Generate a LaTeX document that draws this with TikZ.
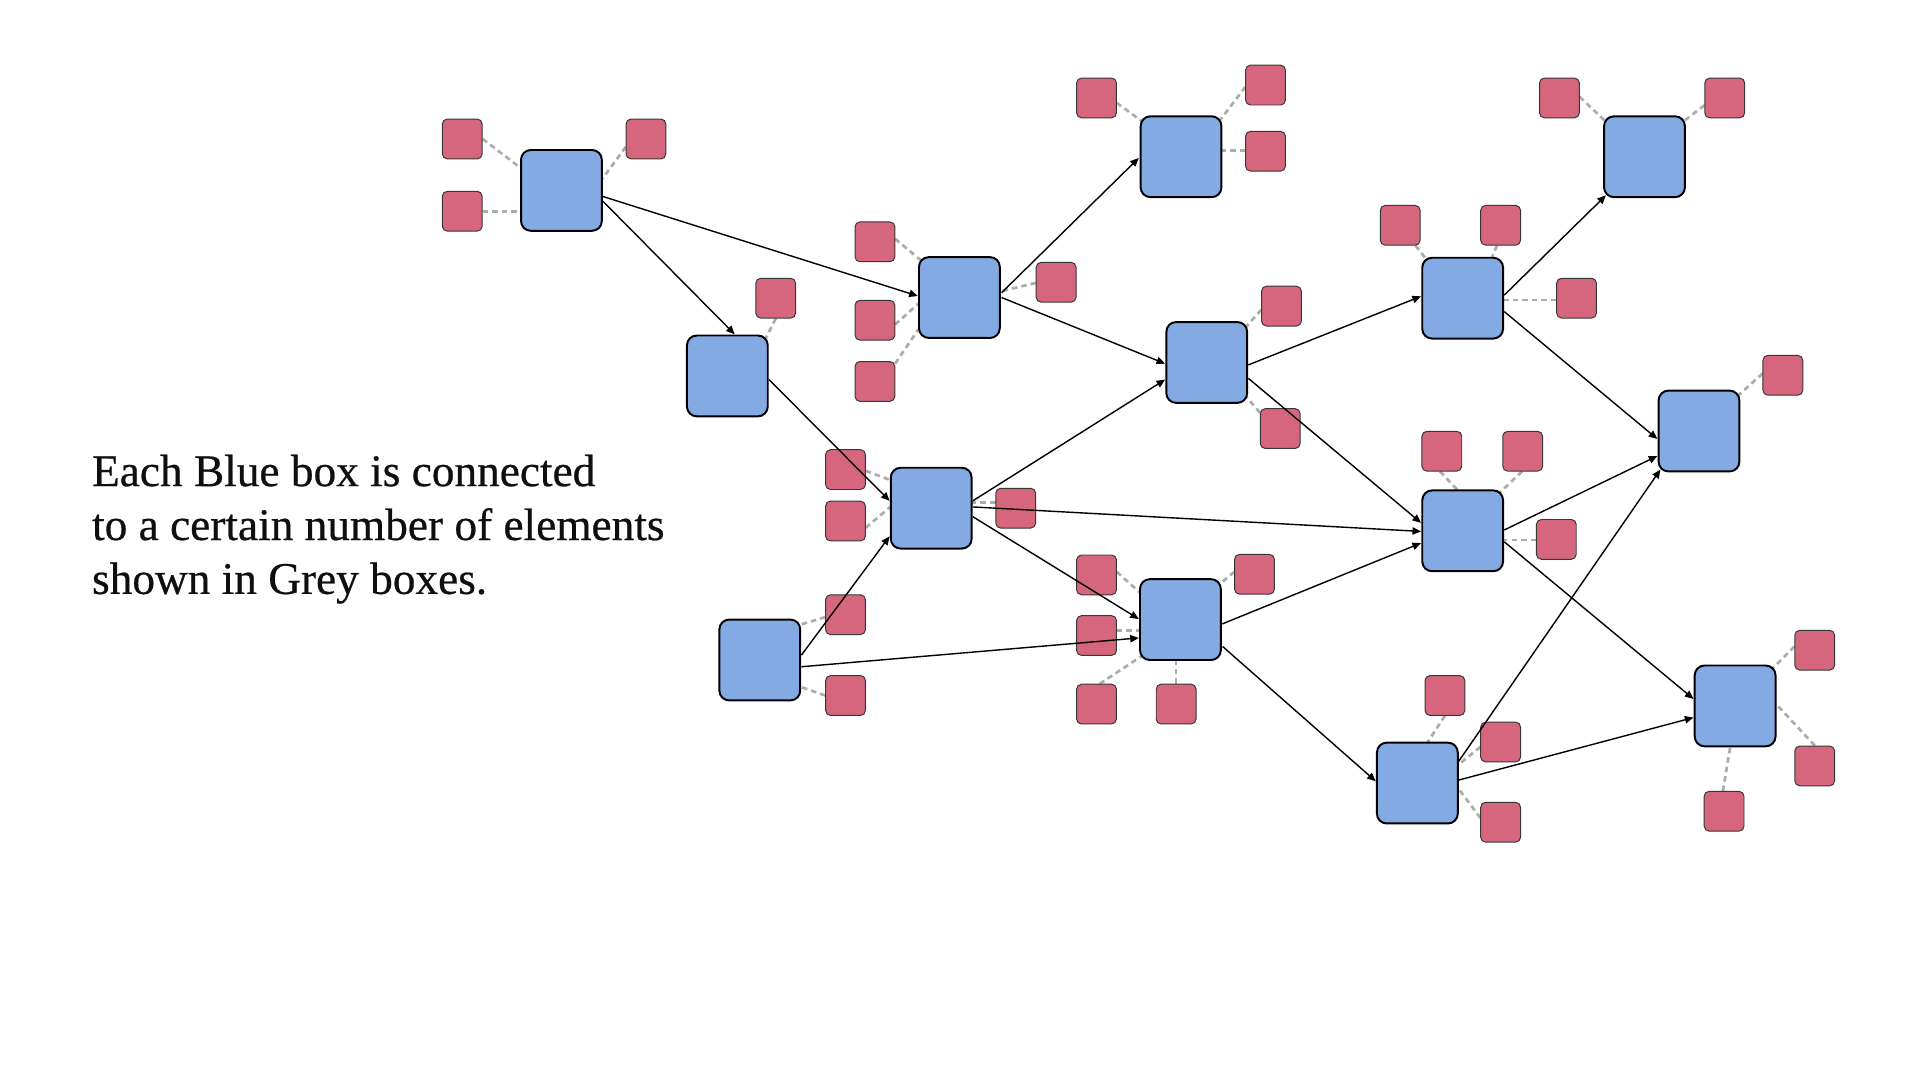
\documentclass[tikz,border=0pt]{standalone}
\usepackage{fontspec}
\setmainfont{Liberation Serif}
\newfontfamily\txtfont[BoldFont=Liberation Serif, BoldFeatures={FakeBold=0.5}]{Liberation Serif}
\usetikzlibrary{calc,arrows.meta}
\pgfdeclarelayer{back}
\pgfdeclarelayer{bg}
\pgfsetlayers{back,bg,main}
\definecolor{bluebox}{RGB}{132,170,228}
\definecolor{redbox}{RGB}{214,102,125}
\definecolor{dashgrey}{RGB}{172,172,172}
\definecolor{rededge}{RGB}{55,55,55}
\definecolor{txtcol}{RGB}{15,15,15}
\begin{document}
\begin{tikzpicture}[x=1pt,y=-1pt,
  bbox/.style={draw=black, line width=1.6pt, fill=bluebox, rounded corners=8pt,
    minimum width=66pt, minimum height=66pt, inner sep=0pt},
  rbox/.style={draw=rededge, line width=0.8pt, fill=redbox, rounded corners=4pt,
    minimum width=32.5pt, minimum height=32.5pt, inner sep=0pt},
  dsh/.style={draw=dashgrey, line width=2.2pt, dash pattern=on 4.5pt off 3.3pt},
  arr/.style={draw=black, line width=1.15pt, -{Triangle[length=7pt,width=6pt]}}]
\begin{pgfonlayer}{back}
\useasboundingbox[fill=white] (0,0) rectangle (1568,882);
\end{pgfonlayer}

% text
\node[anchor=base west, align=left, inner sep=0pt, text=txtcol,
  font=\txtfont\bfseries\fontsize{37pt}{44pt}\selectfont] (txt) at (75,485)
  {Each Blue box is connected\\to a certain number of elements\\shown in Grey boxes.};

% blue boxes
\node[bbox] (A) at (458.5,155.5) {};
\node[bbox] (B) at (594,307) {};
\node[bbox] (C) at (783.5,243) {};
\node[bbox] (D) at (964.5,128) {};
\node[bbox] (E) at (985.5,296) {};
\node[bbox] (F) at (760.5,415) {};
\node[bbox] (G) at (620.5,539) {};
\node[bbox] (H) at (964,506) {};
\node[bbox] (I) at (1194.5,243.5) {};
\node[bbox] (J) at (1343,128) {};
\node[bbox] (K) at (1387.5,352) {};
\node[bbox] (L) at (1194.5,433.5) {};
\node[bbox] (M) at (1157.5,639.5) {};
\node[bbox] (N) at (1417,576.5) {};

% red boxes
\node[rbox] (rA1) at (377.5,113.5) {};
\node[rbox] (rA2) at (377.5,172.5) {};
\node[rbox] (rA3) at (527.5,113.5) {};
\node[rbox] (rB1) at (633.5,243.5) {};
\node[rbox] (rC1) at (714.5,197.5) {};
\node[rbox] (rC2) at (714.5,261.5) {};
\node[rbox] (rC3) at (714.5,311.5) {};
\node[rbox] (rC4) at (862.5,230.5) {};
\node[rbox] (rD1) at (895.5,80) {};
\node[rbox] (rD2) at (1033.5,69.5) {};
\node[rbox] (rD3) at (1033.5,123.5) {};
\node[rbox] (rE1) at (1046.5,250) {};
\node[rbox] (rE2) at (1045.5,350) {};
\node[rbox] (rF1) at (690.5,383.5) {};
\node[rbox] (rF2) at (690.5,425.5) {};
\node[rbox] (rF3) at (829.5,415) {};
\node[rbox] (rG1) at (690.5,502) {};
\node[rbox] (rG2) at (690.5,568) {};
\node[rbox] (rH1) at (895.5,469.5) {};
\node[rbox] (rH2) at (1024.5,469) {};
\node[rbox] (rH3) at (895.5,519) {};
\node[rbox] (rH4) at (895.5,575) {};
\node[rbox] (rH5) at (960.5,575) {};
\node[rbox] (rI1) at (1143.5,184) {};
\node[rbox] (rI2) at (1225.5,184) {};
\node[rbox] (rI3) at (1287.5,243.5) {};
\node[rbox] (rJ1) at (1273.5,80) {};
\node[rbox] (rJ2) at (1408.5,80) {};
\node[rbox] (rK1) at (1456,306.5) {};
\node[rbox] (rL1) at (1177.5,368.5) {};
\node[rbox] (rL2) at (1243.5,368.5) {};
\node[rbox] (rL3) at (1271,440.5) {};
\node[rbox] (rM1) at (1180,568) {};
\node[rbox] (rM2) at (1225.5,606) {};
\node[rbox] (rM3) at (1225.5,671.5) {};
\node[rbox] (rN1) at (1482,531) {};
\node[rbox] (rN2) at (1482,625.5) {};
\node[rbox] (rN3) at (1408,662.5) {};

% dashed links (behind boxes)
\begin{pgfonlayer}{bg}
\draw[dsh] (rA1.east) -- ($(A)+(-33.5,-18.5)$);
\draw[dsh] (rA2.east) -- ($(A)+(-33.5,17)$);
\draw[dsh] ($(rA3)+(-16.5,6.5)$) -- ($(A)+(33.5,-9.5)$);
\draw[dsh] (rB1.south) -- ($(B)+(31,-30)$);
\draw[dsh] ($(rC1)+(16.5,-2.5)$) -- ($(C)+(-31,-30)$);
\draw[dsh] ($(rC2)+(16.5,3.5)$) -- ($(C)+(-33.5,5)$);
\draw[dsh] ($(rC3)+(16.5,-14.5)$) -- ($(C)+(-33.5,26)$);
\draw[dsh] ($(rC4)+(-16.5,0.5)$) -- ($(C)+(33.5,-5)$);
\draw[dsh] ($(rD1)+(16.5,4)$) -- ($(D)+(-32,-29)$);
\draw[dsh] ($(rD2)+(-16.5,1.5)$) -- ($(D)+(32,-30)$);
\draw[dsh] ($(rD3)+(-16.5,-0.5)$) -- ($(D)+(33.5,-5)$);
\draw[dsh] ($(rE1)+(-16.5,3)$) -- ($(E)+(32,-29)$);
\draw[dsh] ($(rE2)+(-16.5,-13)$) -- ($(E)+(32,28)$);
\draw[dsh] ($(rF1)+(16.5,1)$) -- ($(F)+(-33.5,-23)$);
\draw[dsh] ($(rF2)+(16.5,5.5)$) -- ($(F)+(-33.5,-1)$);
\draw[dsh] ($(rF3)+(-16.5,-4.5)$) -- ($(F)+(33.5,-4.5)$);
\draw[dsh] ($(rG1)+(-16.5,2)$) -- ($(G)+(33.5,-29)$);
\draw[dsh] ($(rG2)+(-16.5,0)$) -- ($(G)+(33.5,22)$);
\draw[dsh] ($(rH1)+(16.5,-2.5)$) -- ($(H)+(-33,-22)$);
\draw[dsh] ($(rH2)+(-16.5,-2)$) -- ($(H)+(32,-29)$);
\draw[dsh] ($(rH3)+(16.5,-4)$) -- ($(H)+(-33,9)$);
\draw[dsh] ($(rH4)+(2.5,-16.5)$) -- ($(H)+(-32,30)$);
\draw[dsh] (rH5.north) -- ($(H)+(-3.5,33)$);
\draw[dsh] ($(rI1)+(12.5,16.5)$) -- ($(I)+(-29.5,-31.5)$);
\draw[dsh] ($(rI2)+(-3,16.5)$) -- ($(I)+(24,-33.5)$);
\draw[dsh] ($(rI3)+(-16.5,1.5)$) -- ($(I)+(33.5,1.5)$);
\draw[dsh] ($(rJ1)+(16.5,-1)$) -- ($(J)+(-32,-29)$);
\draw[dsh] ($(rJ2)+(-16.5,6)$) -- ($(J)+(28,-26)$);
\draw[dsh] ($(rK1)+(-16.5,-1.5)$) -- ($(K)+(32,-29)$);
\draw[dsh] ($(rL1)+(-1.5,16.5)$) -- ($(L)+(-1.5,-30.5)$);
\draw[dsh] ($(rL2)+(-0.5,16.5)$) -- ($(L)+(30,-31)$);
\draw[dsh] ($(rL3)+(-16.5,0.5)$) -- ($(L)+(33.5,7.5)$);
\draw[dsh] ($(rM1)+(0,16.5)$) -- ($(M)+(8.5,-33.5)$);
\draw[dsh] ($(rM2)+(-16.5,4)$) -- ($(M)+(33.5,-15)$);
\draw[dsh] ($(rM3)+(-16.5,-3.5)$) -- ($(M)+(33.5,4.5)$);
\draw[dsh] ($(rN1)+(-16.5,-3)$) -- ($(N)+(31,-31)$);
\draw[dsh] (rN2.north) -- ($(N)+(33.5,-1.5)$);
\draw[dsh] ($(rN3)+(-1,-16.5)$) -- ($(N)+(-4,33.5)$);
\end{pgfonlayer}

% arrows
\draw[arr] ($(A)+(34,5)$) -- ($(C)+(-34,-1.3)$);
\draw[arr] ($(A)+(34,9)$) -- ($(B)+(6,-34)$);
\draw[arr] ($(B)+(34,3)$) -- ($(F)+(-34,-6)$);
\draw[arr] ($(C)+(34.5,-4)$) -- ($(D)+(-34.5,1)$);
\draw[arr] ($(C)+(34.5,0)$) -- ($(E)+(-34,1)$);
\draw[arr] ($(F)+(34,-6)$) -- ($(E)+(-34,14)$);
\draw[arr] ($(F)+(34,-1)$) -- ($(L)+(-34,0.5)$);
\draw[arr] ($(F)+(34,7)$) -- ($(H)+(-34,-0.5)$);
\draw[arr] ($(G)+(34,-4)$) -- ($(F)+(-34,23)$);
\draw[arr] ($(G)+(34,5.5)$) -- ($(H)+(-34,15)$);
\draw[arr] ($(E)+(34,2)$) -- ($(I)+(-34,-1.5)$);
\draw[arr] ($(E)+(34,13)$) -- ($(L)+(-34,-6.5)$);
\draw[arr] ($(H)+(34,3.6)$) -- ($(L)+(-34,10)$);
\draw[arr] ($(H)+(34.5,22)$) -- ($(M)+(-34,-1.5)$);
\draw[arr] ($(I)+(34,-2.5)$) -- ($(J)+(-31.5,31.5)$);
\draw[arr] ($(I)+(34,11)$) -- ($(K)+(-34,6.5)$);
\draw[arr] ($(L)+(34,-0.7)$) -- ($(K)+(-34,20.4)$);
\draw[arr] ($(L)+(34,9)$) -- ($(N)+(-34,-5.7)$);
\draw[arr] ($(M)+(33,-16.7)$) -- ($(K)+(-31.5,31.5)$);
\draw[arr] ($(M)+(34,-2.5)$) -- ($(N)+(-34,9.5)$);
\end{tikzpicture}
\end{document}
